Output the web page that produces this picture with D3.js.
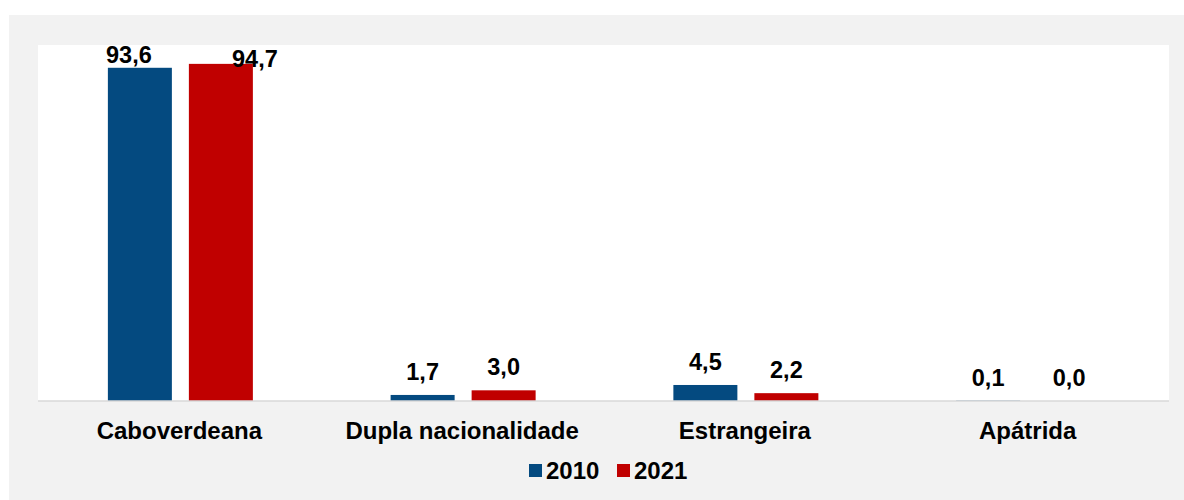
<!DOCTYPE html>
<html>
<head>
<meta charset="utf-8">
<script src="https://cdn.jsdelivr.net/npm/d3@7"></script>
<style>
  body { margin: 0; background: #ffffff; }
  text { font-family: "Liberation Sans", Arial, sans-serif; font-weight: bold; fill: #000; }
</style>
</head>
<body>
<svg id="chart" width="1184" height="500"></svg>
<script>
var categories = ['Caboverdeana', 'Dupla nacionalidade', 'Estrangeira', 'Apátrida'];
var years = ['2010', '2021'];
var values2010 = [93.6, 1.7, 4.5, 0.1];
var values2021 = [94.7, 3.0, 2.2, 0.0];
var colors = { '2010': '#044a80', '2021': '#c00000' };

// excel pushed the two big labels around, copy that
var labelNudge = { 'Caboverdeana-2010': [-11, 10], 'Caboverdeana-2021': [34, 18] };

var svg = d3.select('#chart');
var plot = { left: 38, right: 1169, top: 45, bottom: 401 };

svg.append('rect').attr('x', 9).attr('y', 15).attr('width', 1175).attr('height', 485).attr('fill', '#f2f2f2');
svg.append('rect').attr('x', plot.left).attr('y', plot.top)
  .attr('width', plot.right - plot.left).attr('height', plot.bottom - plot.top).attr('fill', '#ffffff');

var x0 = d3.scaleBand().domain(categories).range([plot.left, plot.right]);
var x1 = d3.scaleBand().domain(years).range([-72.5, 72.5]).paddingInner(17 / 81);
var y = d3.scaleLinear().domain([0, 100]).range([plot.bottom, plot.top]);

var rows = [];
categories.forEach(function(c, i) {
  rows.push({ cat: c, year: '2010', v: values2010[i] });
  rows.push({ cat: c, year: '2021', v: values2021[i] });
});
var fmt = function(v) { return d3.format('.1f')(v).replace('.', ','); };

svg.append('g').selectAll('rect').data(rows).enter().append('rect')
  .attr('x', function(d) { return x0(d.cat) + x0.bandwidth() / 2 + x1(d.year) + 1; })
  .attr('y', function(d) { return y(d.v); })
  .attr('width', x1.bandwidth())
  .attr('height', function(d) { return y(0) - y(d.v); })
  .attr('fill', function(d) { return colors[d.year]; });

svg.append('line').attr('x1', plot.left).attr('x2', plot.right)
  .attr('y1', plot.bottom).attr('y2', plot.bottom)
  .attr('stroke', '#d9d9d9').attr('stroke-width', 1.5);

svg.append('g').selectAll('text').data(rows).enter().append('text')
  .attr('x', function(d) {
    var n = labelNudge[d.cat + '-' + d.year] || [0, 0];
    return x0(d.cat) + x0.bandwidth() / 2 + x1(d.year) + 1 + x1.bandwidth() / 2 + n[0];
  })
  .attr('y', function(d) {
    var n = labelNudge[d.cat + '-' + d.year] || [0, 0];
    return y(d.v) - 15 + n[1];
  })
  .attr('text-anchor', 'middle').style('font-size', '23.5px')
  .text(function(d) { return fmt(d.v); });

var xAxis = d3.axisBottom(x0).tickSize(0).tickPadding(0);
var gx = svg.append('g').attr('transform', 'translate(0,' + plot.bottom + ')').call(xAxis);
gx.select('.domain').remove();
gx.selectAll('text').attr('dy', null).attr('y', 38).style('font-size', '24px')
  .style('font-family', '"Liberation Sans", Arial, sans-serif').attr('fill', '#000');

var legend = svg.append('g');
var lx = [529, 617];
years.forEach(function(yr, i) {
  legend.append('rect').attr('x', lx[i]).attr('y', 464).attr('width', 13).attr('height', 13).attr('fill', colors[yr]);
  legend.append('text').attr('x', lx[i] + 17).attr('y', 479).style('font-size', '24px').text(yr);
});
</script>
</body>
</html>
